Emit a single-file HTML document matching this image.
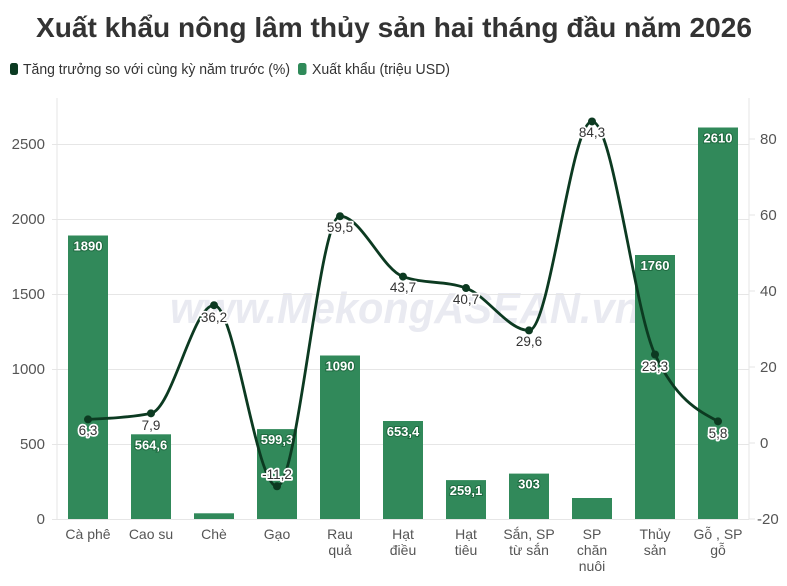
<!DOCTYPE html>
<html><head><meta charset="utf-8"><style>
html,body{margin:0;padding:0;background:#fff;}
svg{display:block;font-family:"Liberation Sans","DejaVu Sans",sans-serif;}
</style></head><body>
<svg width="787" height="586" viewBox="0 0 787 586" xmlns="http://www.w3.org/2000/svg">
<rect width="787" height="586" fill="#fff"/>
<text x="36" y="37" font-size="28" font-weight="bold" fill="#333" textLength="716" lengthAdjust="spacingAndGlyphs">Xuất khẩu nông lâm thủy sản hai tháng đầu năm 2026</text>
<rect x="10" y="63" width="8" height="12" rx="2.5" fill="#0b3b22"/>
<text x="23" y="74" font-size="14.5" fill="#333" textLength="267" lengthAdjust="spacingAndGlyphs">Tăng trưởng so với cùng kỳ năm trước (%)</text>
<rect x="298" y="63" width="8.5" height="12" rx="2.5" fill="#2f8a59"/>
<text x="312" y="74" font-size="14.5" fill="#333" textLength="138" lengthAdjust="spacingAndGlyphs">Xuất khẩu (triệu USD)</text>

<!-- watermark -->
<text x="170" y="323" font-size="44" font-weight="bold" font-style="italic" fill="#e9eaf1" textLength="470" lengthAdjust="spacingAndGlyphs">www.MekongASEAN.vn</text>

<!-- grid -->
<g stroke="#e6e6e6" stroke-width="1">
<line x1="52" y1="519.5" x2="749" y2="519.5"/>
<line x1="52" y1="444.5" x2="749" y2="444.5"/>
<line x1="52" y1="369.5" x2="749" y2="369.5"/>
<line x1="52" y1="294.5" x2="749" y2="294.5"/>
<line x1="52" y1="219.5" x2="749" y2="219.5"/>
<line x1="52" y1="144.5" x2="749" y2="144.5"/>
<line x1="57" y1="98" x2="57" y2="519"/>
<line x1="749" y1="98" x2="749" y2="519"/>
<line x1="749" y1="139" x2="755" y2="139"/>
<line x1="749" y1="215" x2="755" y2="215"/>
<line x1="749" y1="291" x2="755" y2="291"/>
<line x1="749" y1="367" x2="755" y2="367"/>
<line x1="749" y1="443" x2="755" y2="443"/>
<line x1="749" y1="519" x2="755" y2="519"/>
</g>

<!-- left axis labels -->
<g font-size="15" fill="#555" text-anchor="end">
<text x="45" y="524">0</text>
<text x="45" y="449">500</text>
<text x="45" y="374">1000</text>
<text x="45" y="299">1500</text>
<text x="45" y="224">2000</text>
<text x="45" y="149">2500</text>
</g>
<!-- right axis labels -->
<g font-size="15" fill="#555">
<text x="760" y="144">80</text>
<text x="760" y="220">60</text>
<text x="760" y="296">40</text>
<text x="760" y="372">20</text>
<text x="760" y="448">0</text>
<text x="757" y="524">-20</text>
</g>

<!-- bars -->
<g fill="#31895a">
<rect x="68" y="235.5" width="40" height="283.5"/>
<rect x="131" y="434.3" width="40" height="84.7"/>
<rect x="194" y="513.3" width="40" height="5.7"/>
<rect x="257" y="429.1" width="40" height="89.9"/>
<rect x="320" y="355.5" width="40" height="163.5"/>
<rect x="383" y="421" width="40" height="98"/>
<rect x="446" y="480.1" width="40" height="38.9"/>
<rect x="509" y="473.6" width="40" height="45.4"/>
<rect x="572" y="498" width="40" height="21"/>
<rect x="635" y="255" width="40" height="264"/>
<rect x="698" y="127.5" width="40" height="391.5"/>
</g>

<!-- bar labels -->
<g font-size="13" font-weight="bold" fill="#fff" stroke="#1f6a40" stroke-width="2" paint-order="stroke" text-anchor="middle">
<text x="88" y="250.5">1890</text>
<text x="151" y="449.5">564,6</text>
<text x="277" y="444">599,3</text>
<text x="340" y="370.5">1090</text>
<text x="403" y="436">653,4</text>
<text x="466" y="495">259,1</text>
<text x="529" y="488.5">303</text>
<text x="655" y="270">1760</text>
<text x="718" y="142.5">2610</text>
</g>

<!-- x category labels -->
<g font-size="14" fill="#555" text-anchor="middle">
<text x="88" y="539">Cà phê</text>
<text x="151" y="539">Cao su</text>
<text x="214" y="539">Chè</text>
<text x="277" y="539">Gạo</text>
<text x="340" y="539">Rau</text><text x="340" y="555">quả</text>
<text x="403" y="539">Hạt</text><text x="403" y="555">điều</text>
<text x="466" y="539">Hạt</text><text x="466" y="555">tiêu</text>
<text x="529" y="539">Sắn, SP</text><text x="529" y="555">từ sắn</text>
<text x="592" y="539">SP</text><text x="592" y="555">chăn</text><text x="592" y="571">nuôi</text>
<text x="655" y="539">Thủy</text><text x="655" y="555">sản</text>
<text x="718" y="539">Gỗ , SP</text><text x="718" y="555">gỗ</text>
</g>

<!-- line -->
<path d="M88,419.43 C109,418.41 130,417.39 151,413.32 C172,409.25 193,305.22 214,305.22 C235,305.22 256,486.28 277,486.28 C298,486.28 319,216.21 340,216.21 C361,216.21 382,268.93 403,276.57 C424,284.21 445,280.39 466,288.03 C487,295.67 508,330.43 529,330.43 C550,330.43 571,121.47 592,121.47 C613,121.47 634,309.92 655,354.49 C676,399.06 697,410.20 718,421.34" fill="none" stroke="#0c3a21" stroke-width="2.8" stroke-linejoin="round"/>
<g fill="#0c3a21">
<circle cx="88" cy="419.43" r="4"/>
<circle cx="151" cy="413.32" r="4"/>
<circle cx="214" cy="305.22" r="4"/>
<circle cx="277" cy="486.28" r="4"/>
<circle cx="340" cy="216.21" r="4"/>
<circle cx="403" cy="276.57" r="4"/>
<circle cx="466" cy="288.03" r="4"/>
<circle cx="529" cy="330.43" r="4"/>
<circle cx="592" cy="121.47" r="4"/>
<circle cx="655" cy="354.49" r="4"/>
<circle cx="718" cy="421.34" r="4"/>
</g>

<!-- line labels -->
<g font-size="13.5" fill="#333" stroke="#fff" stroke-width="3.5" stroke-linejoin="round" paint-order="stroke" text-anchor="middle">
<text x="88" y="435">6,3</text>
<text x="151" y="430">7,9</text>
<text x="214" y="322">36,2</text>
<text x="277" y="479">-11,2</text>
<text x="340" y="232">59,5</text>
<text x="403" y="292">43,7</text>
<text x="466" y="304">40,7</text>
<text x="529" y="346">29,6</text>
<text x="592" y="137">84,3</text>
<text x="655" y="371">23,3</text>
<text x="718" y="438">5,8</text>
</g>
</svg>
</body></html>
